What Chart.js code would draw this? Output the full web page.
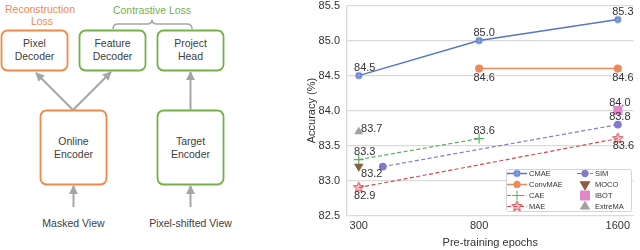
<!DOCTYPE html>
<html>
<head>
<meta charset="utf-8">
<script src="https://cdn.jsdelivr.net/npm/chart.js@4.4.1/dist/chart.umd.min.js"></script>
<style>
html, body { margin: 0; padding: 0; background: #fff; }
#wrap { position: relative; width: 640px; height: 250px; overflow: hidden; font-family: "Liberation Sans", Arial, sans-serif; }
#diagram { position: absolute; left: 0; top: 0; }
#diagram text { font-size: 10.5px; fill: #404040; text-anchor: middle; dominant-baseline: central; }
#box { position: absolute; left: 301px; top: -8px; }
</style>
</head>
<body>
<div id="wrap">
<svg id="diagram" width="262" height="250" viewBox="0 0 262 250">
  <defs>
    <marker id="ah" markerUnits="userSpaceOnUse" markerWidth="10" markerHeight="10" refX="8" refY="5" orient="auto">
      <path d="M0,0.5 L9,5 L0,9.5 z" fill="#a6a6a6"/>
    </marker>
  </defs>
  <text x="40" y="8.5" style="fill:#f08a48">Reconstruction</text>
  <text x="42" y="21" style="fill:#f08a48">Loss</text>
  <text x="152" y="10" style="fill:#74b04c">Contrastive Loss</text>
  <path d="M113,29 Q113,24 118,24 L147,24 Q152,24 152,19.5 Q152,24 157,24 L187,24 Q192,24 192,29" fill="none" stroke="#a6a6a6" stroke-width="1.5"/>

  <rect x="1.5" y="30.5" width="66" height="40" rx="6" fill="none" stroke="#f08a48" stroke-width="1.8"/>
  <rect x="79.5" y="30.5" width="66" height="40" rx="6" fill="none" stroke="#74b04c" stroke-width="1.8"/>
  <rect x="157.5" y="30.5" width="66" height="40" rx="6" fill="none" stroke="#74b04c" stroke-width="1.8"/>
  <rect x="40.5" y="110.5" width="66" height="74" rx="6" fill="none" stroke="#f08a48" stroke-width="1.8"/>
  <rect x="157.5" y="110.5" width="66" height="74" rx="6" fill="none" stroke="#74b04c" stroke-width="1.8"/>

  <text x="34.5" y="43">Pixel</text><text x="34.5" y="56">Decoder</text>
  <text x="112.5" y="43">Feature</text><text x="112.5" y="56">Decoder</text>
  <text x="190.5" y="43">Project</text><text x="190.5" y="56">Head</text>
  <text x="73.5" y="141">Online</text><text x="73.5" y="153.5">Encoder</text>
  <text x="190.5" y="141">Target</text><text x="190.5" y="153.5">Encoder</text>

  <g stroke="#a6a6a6" stroke-width="2" fill="none" marker-end="url(#ah)">
    <line x1="73" y1="110" x2="36" y2="73"/>
    <line x1="73" y1="110" x2="111" y2="72"/>
    <line x1="190.5" y1="110" x2="190.5" y2="72"/>
    <line x1="73.5" y1="207" x2="73.5" y2="186"/>
    <line x1="190.5" y1="207" x2="190.5" y2="186"/>
  </g>
  <text x="73.5" y="223">Masked View</text>
  <text x="190.5" y="223">Pixel-shifted View</text>
</svg>
<div id="box"><canvas id="chart" width="339" height="260"></canvas></div>
</div>
<script>
// values
const epochTicks = [300, 800, 1600];
const accTicks = [82.5, 83.0, 83.5, 84.0, 84.5, 85.0, 85.5];

const cmaeEpochs = [300, 800, 1600];
const cmaeAcc = [84.5, 85.0, 85.3];
const convmaeEpochs = [800, 1600];
const convmaeAcc = [84.6, 84.6];
const caeEpochs = [300, 800];
const caeAcc = [83.3, 83.6];
const maeEpochs = [300, 1600];
const maeAcc = [82.9, 83.6];
const simEpochs = [400, 1600];
const simAcc = [83.2, 83.8];
const mocoEpochs = [300];
const mocoAcc = [83.2];
const ibotEpochs = [1600];
const ibotAcc = [84.0];
const extremaEpochs = [300];
const extremaAcc = [83.7];

const FONT = '"Liberation Sans", Arial, sans-serif';
const TEXT = '#333333';

// x axis of the figure is not linear in epochs: tick positions are set by stops
class EpochScale extends Chart.LinearScale {
  toDecimal(v) {
    const s = this.options.stops;
    let i = 0;
    while (i < s.length - 2 && v > s[i + 1][0]) i++;
    const [v0, d0] = s[i], [v1, d1] = s[i + 1];
    return d0 + (v - v0) / (v1 - v0) * (d1 - d0);
  }
  getPixelForValue(value) {
    if (value === null || value === undefined) return NaN;
    return this.getPixelForDecimal(this.toDecimal(value));
  }
  getValueForPixel(pixel) {
    const d = this.getDecimalForPixel(pixel);
    const s = this.options.stops;
    let i = 0;
    while (i < s.length - 2 && d > s[i + 1][1]) i++;
    const [v0, d0] = s[i], [v1, d1] = s[i + 1];
    return v0 + (d - d0) / (d1 - d0) * (v1 - v0);
  }
}
EpochScale.id = 'epoch';
Chart.register(EpochScale);

function icon(size, draw) {
  const c = document.createElement('canvas');
  c.width = c.height = size;
  draw(c.getContext('2d'), size / 2);
  return c;
}
const cmaeIcon = icon(10, (g, m) => {
  g.fillStyle = '#5b7fcc';
  g.beginPath(); g.arc(m, m, 3.4, 0, Math.PI * 2); g.fill();
  g.strokeStyle = '#9fb6e6'; g.lineWidth = 0.9;
  g.beginPath(); g.moveTo(m, m - 2.6); g.lineTo(m, m + 2.6); g.moveTo(m - 2.6, m); g.lineTo(m + 2.6, m); g.stroke();
});
const starIcon = icon(13, (g, m) => {
  g.beginPath();
  for (let k = 0; k < 10; k++) {
    const r = k % 2 ? 2.4 : 5.6;
    const a = -Math.PI / 2 + k * Math.PI / 5;
    g.lineTo(m + r * Math.cos(a), m + r * Math.sin(a));
  }
  g.closePath();
  g.fillStyle = 'rgba(225,110,118,0.35)'; g.fill();
  g.strokeStyle = '#d9474f'; g.lineWidth = 1; g.stroke();
});

const pts = (xs, ys) => xs.map((x, i) => ({x: x, y: ys[i]}));

const valueLabels = {
  id: 'valueLabels',
  afterDatasetsDraw(chart) {
    const ctx = chart.ctx;
    ctx.save();
    ctx.font = '11px ' + FONT;
    ctx.fillStyle = TEXT;
    ctx.textAlign = 'center';
    ctx.textBaseline = 'middle';
    chart.data.datasets.forEach((ds, di) => {
      const meta = chart.getDatasetMeta(di);
      (ds.labelOffsets || []).forEach((off, i) => {
        if (!off) return;
        const p = meta.data[i];
        ctx.fillText(ds.data[i].y.toFixed(1), p.x + off[0], p.y + off[1]);
      });
    });
    ctx.restore();
  }
};

const boxLegend = {
  id: 'boxLegend',
  afterDraw(chart) {
    const {ctx, chartArea} = chart;
    const w = 125, h = 42;
    const left = Math.round(chartArea.right - 3 - w), top = Math.round(chartArea.bottom - 5 - h);
    ctx.save();
    ctx.fillStyle = 'rgba(255,255,255,0.9)';
    ctx.strokeStyle = '#d4d4d4';
    ctx.lineWidth = 1;
    ctx.beginPath();
    ctx.roundRect(left + 0.5, top + 0.5, w, h, 2);
    ctx.fill(); ctx.stroke();
    ctx.font = '7.5px ' + FONT;
    ctx.textBaseline = 'middle';
    chart.data.datasets.forEach(ds => {
      const col = ds.legendCol, y = top + 4.5 + 11 * ds.legendRow;
      const x0 = left + (col ? 71 : 1), x1 = left + (col ? 87 : 21);
      const mx = (x0 + x1) / 2;
      if (ds.showLine !== false) {
        ctx.strokeStyle = ds.borderColor;
        ctx.lineWidth = ds.borderWidth;
        ctx.setLineDash(ds.borderDash || []);
        ctx.beginPath(); ctx.moveTo(x0, y); ctx.lineTo(x1, y); ctx.stroke();
        ctx.setLineDash([]);
      }
      ctx.fillStyle = ds.backgroundColor;
      ctx.strokeStyle = ds.borderColor;
      ctx.lineWidth = 1;
      Chart.helpers.drawPoint(ctx, {
        pointStyle: ds.pointStyle, radius: ds.pointRadius,
        rotation: ds.pointRotation || 0, borderWidth: 1
      }, mx, y);
      ctx.fillStyle = TEXT;
      ctx.fillText(ds.label, x1 + 2, y);
    });
    ctx.restore();
  }
};

new Chart(document.getElementById('chart'), {
  type: 'line',
  data: {
    datasets: [
      { label: 'CMAE', data: pts(cmaeEpochs, cmaeAcc), borderColor: '#5577c6', backgroundColor: '#5577c6',
        borderWidth: 1.5, pointStyle: cmaeIcon, pointRadius: 4,
        labelOffsets: [[6, -8], [5, -8], [5, -7.5]], legendCol: 0, legendRow: 0 },
      { label: 'ConvMAE', data: pts(convmaeEpochs, convmaeAcc), borderColor: '#ec8a5c', backgroundColor: '#ec8a5c',
        borderWidth: 1.5, pointStyle: 'circle', pointRadius: 3.3,
        labelOffsets: [[5, 9], [5, 9]], legendCol: 0, legendRow: 1 },
      { label: 'CAE', data: pts(caeEpochs, caeAcc), borderColor: '#5aae5f', backgroundColor: '#5aae5f',
        borderWidth: 1.2, borderDash: [4, 2.5], pointStyle: 'cross', pointRadius: 5, pointBorderWidth: 1.2,
        labelOffsets: [[6, -8], [5, -8]], legendCol: 0, legendRow: 2 },
      { label: 'MAE', data: pts(maeEpochs, maeAcc), borderColor: '#d9474f', backgroundColor: '#d9474f',
        borderWidth: 1.2, borderDash: [4, 2.5], pointStyle: starIcon, pointRadius: 5,
        labelOffsets: [[6, 8], [5.5, 7]], legendCol: 0, legendRow: 3 },
      { label: 'SIM', data: pts(simEpochs, simAcc), borderColor: '#8478cc', backgroundColor: '#8478cc',
        borderWidth: 1.2, borderDash: [4, 2.5], pointStyle: 'circle', pointRadius: 3.3,
        labelOffsets: [null, [2, -8]], legendCol: 1, legendRow: 0 },
      { label: 'MOCO', data: pts(mocoEpochs, mocoAcc), showLine: false, borderColor: '#8b5f40', backgroundColor: '#8b5f40',
        pointStyle: 'triangle', pointRotation: 180, pointRadius: 5.5, pointBorderWidth: 0,
        labelOffsets: [[13, 7]], legendCol: 1, legendRow: 1 },
      { label: 'IBOT', data: pts(ibotEpochs, ibotAcc), showLine: false, borderColor: '#e088c8', backgroundColor: '#e088c8',
        pointStyle: 'rect', pointRadius: 6.4, pointBorderWidth: 0,
        labelOffsets: [[2, -8]], legendCol: 1, legendRow: 2 },
      { label: 'ExtreMA', data: pts(extremaEpochs, extremaAcc), showLine: false, borderColor: '#a3a3a3', backgroundColor: '#a3a3a3',
        pointStyle: 'triangle', pointRadius: 5.2, pointBorderWidth: 0,
        labelOffsets: [[13, -3]], legendCol: 1, legendRow: 3 }
    ]
  },
  options: {
    responsive: false,
    animation: false,
    layout: { padding: { top: 4, right: 0, bottom: 0, left: 0 } },
    scales: {
      x: {
        type: 'epoch',
        min: 250, max: 1700,
        stops: [[300, 0.041], [800, 0.461], [1600, 0.945]],
        afterBuildTicks: s => { s.ticks = epochTicks.map(v => ({value: v})); },
        grid: { display: false, drawTicks: false },
        border: { display: false },
        ticks: { padding: 4, color: TEXT, font: { family: FONT, size: 11 }, callback: v => String(v), maxRotation: 0 },
        title: { display: true, text: 'Pre-training epochs', color: TEXT, font: { family: FONT, size: 11 }, padding: { top: 0, bottom: 2 } }
      },
      y: {
        min: 82.5, max: 85.5,
        afterBuildTicks: s => { s.ticks = accTicks.map(v => ({value: v})); },
        afterFit: s => { s.width = 46; },
        grid: { color: '#dadada', lineWidth: 1.3, drawTicks: false },
        border: { display: true, color: '#dadada', width: 1.3 },
        ticks: { padding: 7, color: TEXT, font: { family: FONT, size: 11 }, callback: v => v.toFixed(1) },
        title: { display: true, text: 'Accuracy (%)', color: TEXT, font: { family: FONT, size: 11 }, padding: { top: 4, bottom: 0 } }
      }
    },
    plugins: { legend: { display: false }, tooltip: { enabled: false } }
  },
  plugins: [valueLabels, boxLegend]
});
</script>
</body>
</html>
